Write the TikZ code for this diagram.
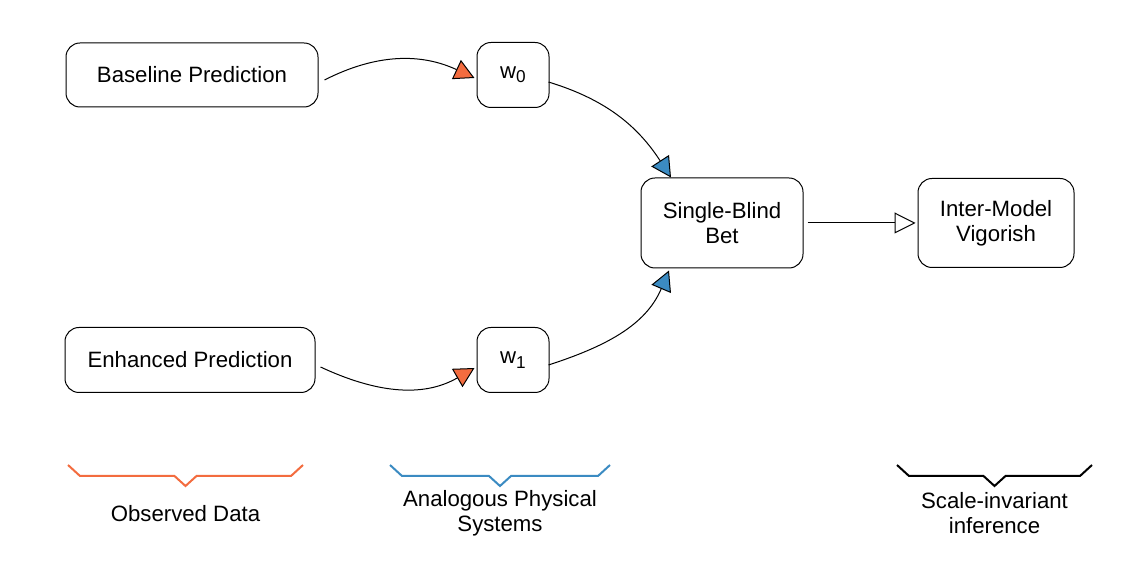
\documentclass[tikz,border=0pt]{standalone}
\usepackage{fontspec}
\setmainfont{Liberation Sans}
\usetikzlibrary{positioning,arrows.meta}

\definecolor{dataorange}{HTML}{F36C3F}
\definecolor{systemblue}{HTML}{3B8BC2}

\tikzset{
  box/.style={draw, rounded corners=7pt, line width=0.5pt, align=center, inner sep=0pt},
  flow/.style={line width=0.5pt, -{Triangle[length=10pt, width=10.5pt, fill=#1]}},
  brace/.style={line width=1pt, line join=miter},
}

\newcommand{\wsub}[1]{w\raisebox{-2.2pt}{\fontsize{8.6}{10}\selectfont #1}}

\newcommand{\labelbrace}[3]{%
  \draw[brace, #1] (#2,53.5) -- ++(6,-5.5) -- ({(#2+#3)/2-5.5},48) -- ({(#2+#3)/2},43)
    -- ({(#2+#3)/2+5.5},48) -- (#3-6,48) -- (#3,53.5);}

\begin{document}
\begin{tikzpicture}[x=1pt, y=1pt, font=\fontsize{11.1}{12.5}\selectfont]
  \useasboundingbox (0,0) rectangle (562,286);

  \node[box, minimum width=126pt, minimum height=32pt] (base) at (96,248.5) {Baseline Prediction};
  \node[box, minimum width=36pt, minimum height=32.5pt, right=79pt of base] (w0) {\wsub{0}};
  \node[box, minimum width=125pt, minimum height=32.5pt] (enh) at (95,106) {Enhanced Prediction};
  \node[box, minimum width=36pt, minimum height=32.5pt, right=80.5pt of enh] (w1) {\wsub{1}};
  \node[box, minimum width=81pt, minimum height=45pt] (sbb) at (361,174.5) {Single-Blind\\Bet};
  \node[box, minimum width=78pt, minimum height=44.5pt, right=57pt of sbb] (imv) {Inter-Model\\Vigorish};

  \draw[flow=dataorange] ([xshift=3pt, yshift=-2.5pt]base.east) to[out=27, in=155] ([xshift=-1pt, yshift=-1.5pt]w0.west);
  \draw[flow=dataorange] ([xshift=2.5pt, yshift=-3.5pt]enh.east) to[out=-25, in=210] ([xshift=-1pt, yshift=-4pt]w1.west);
  \draw[flow=systemblue] ([xshift=-0.5pt, yshift=-3.5pt]w0.east) to[out=-17, in=123] ([xshift=-25.5pt]sbb.north);
  \draw[flow=systemblue] ([xshift=-0.5pt, yshift=-2.5pt]w1.east) to[out=18, in=-113] ([xshift=-26.5pt, yshift=-1pt]sbb.south);
  \draw[line width=0.5pt, -{Triangle[length=10.5pt, width=10.5pt, fill=white]}] ([xshift=2pt]sbb.east) -- ([xshift=-1pt]imv.west);

  \labelbrace{dataorange}{34}{151.5}
  \labelbrace{systemblue}{195}{305}
  \labelbrace{black}{448.5}{546}

  \node[align=center] (obs) at (92.75,29) {Observed Data};
  \node[align=center] (phys) at (250,29.25) {Analogous Physical\\Systems};
  \node[align=center] (scale) at (497.25,29.5) {Scale-invariant\\inference};
\end{tikzpicture}
\end{document}
